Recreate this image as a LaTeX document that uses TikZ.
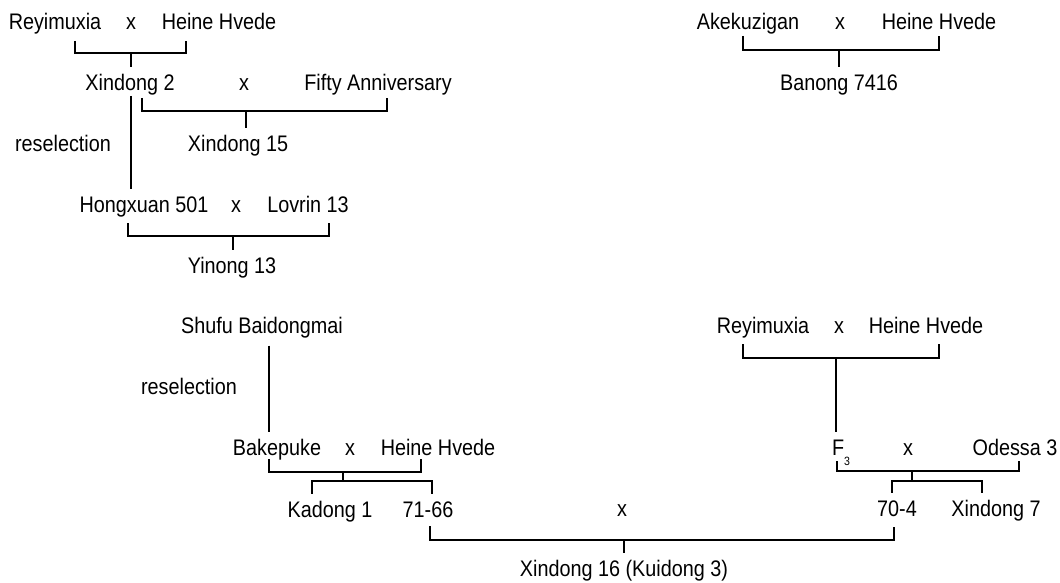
\documentclass[tikz,border=0pt]{standalone}
\usepackage{fontspec}
\setmainfont{Liberation Sans}[FakeStretch=0.88]

\begin{document}
\begin{tikzpicture}[
  x=1pt, y=-1pt,
  font=\fontsize{22.5}{25}\selectfont,
  link/.style={draw=black, line width=2.6pt},
  cult/.style={anchor=base, inner sep=0pt, outer sep=8pt,
    text height=15.5pt, text depth=4.5pt},
  xmark/.style={anchor=base, inner sep=0pt},
  note/.style={anchor=base, inner sep=0pt}
]
\useasboundingbox (0,0) rectangle (1060,583);

% 1. Top left: Xindong 2 -> Xindong 15, Yinong 13
\node[cult] (reyA) at (55,30) {Reyimuxia};
\node[xmark] (xA) at (131,30) {x};
\node[cult] (heineA) at (219,30) {Heine Hvede};

\node[cult] (xd2) at (130,91) {Xindong 2};
\node[xmark] (xB) at (244,91) {x};
\node[cult] (fifty) at (378,91) {Fifty Anniversary};

\node[cult] (xd15) at (238,152) {Xindong 15};
\node[note] (resA) at (63,152) {reselection};

\node[cult] (hong) at (144,212) {Hongxuan 501};
\node[xmark] (xC) at (236,212) {x};
\node[cult] (lovrin) at (308,212) {Lovrin 13};

\node[cult] (yin) at (232,273) {Yinong 13};

% 2. Top right: Banong 7416
\node[cult] (akek) at (748,30) {Akekuzigan};
\node[xmark] (xD) at (840,30) {x};
\node[cult] (heineB) at (939,30) {Heine Hvede};

\node[cult] (banong) at (839,91) {Banong 7416};

% 3. Bottom left: Shufu Baidongmai line
\node[cult] (shufu) at (262,333) {Shufu Baidongmai};
\node[note] (resB) at (189,394) {reselection};

\node[cult] (bake) at (277,455) {Bakepuke};
\node[xmark] (xE) at (350,455) {x};
\node[cult] (heineC) at (438,455) {Heine Hvede};

\node[cult] (kad) at (330,517) {Kadong 1};
\node[cult] (n7166) at (428,517) {71-66};

% 4. Bottom right: F3 x Odessa 3
\node[cult] (reyB) at (763,333) {Reyimuxia};
\node[xmark] (xG) at (839,333) {x};
\node[cult] (heineD) at (926,333) {Heine Hvede};

\node[cult] (f3) at (841,455) {F\raisebox{-10pt}{\fontsize{12}{12}\selectfont 3}};
\node[xmark] (xH) at (908,455) {x};
\node[cult] (odessa) at (1015,455) {Odessa 3};

\node[cult] (n704) at (897,516) {70-4};
\node[cult] (xd7) at (996,516) {Xindong 7};

% 5. Final cross
\node[xmark] (xF) at (622,516) {x};
\node[cult] (final) at (624,576) {Xindong 16 (Kuidong 3)};

% Brackets
\coordinate (a1) at (75,41);  \coordinate (a2) at (186,41);  \coordinate (a) at (131,53);
\draw[link] (a1) |- (a) -| (a2);
\draw[link] (a) -- (a |- xd2.north);

\coordinate (b1) at (142,98); \coordinate (b2) at (387,98);  \coordinate (b) at (246,111);
\draw[link] (b1) |- (b) -| (b2);
\draw[link] (b) -- (b |- xd15.north);

\coordinate (rA) at (131,96);
\draw[link] (rA) -- (rA |- hong.north);

\coordinate (c1) at (128,223); \coordinate (c2) at (329,223); \coordinate (c) at (233,236);
\draw[link] (c1) |- (c) -| (c2);
\draw[link] (c) -- (c |- yin.north);

\coordinate (d1) at (743,36); \coordinate (d2) at (939,36);  \coordinate (d) at (839,50);
\draw[link] (d1) |- (d) -| (d2);
\draw[link] (d) -- (d |- banong.north);

\coordinate (rB) at (269,0);
\draw[link] (rB |- shufu.south) -- (rB |- bake.north);

\coordinate (e1) at (269,459); \coordinate (e2) at (421,459); \coordinate (e) at (343,472);
\draw[link] (e1) |- (e) -| (e2);
\coordinate (eL) at (312,481); \coordinate (eR) at (432,481);
\draw[link] (e) -- (e |- eL);
\draw[link] (eL |- kad.north) -- (eL) -- (eR) -- (eR |- n7166.north);

\coordinate (f1) at (743,344); \coordinate (f2) at (939,344); \coordinate (f) at (836,358);
\draw[link] (f1) |- (f) -| (f2);
\draw[link] (f) -- (f |- f3.north);

\coordinate (h1) at (837,461); \coordinate (h2) at (1019,461); \coordinate (h) at (912,471);
\draw[link] (h1) |- (h) -| (h2);
\coordinate (hL) at (892,481); \coordinate (hR) at (982,481);
\draw[link] (h) -- (h |- hL);
\draw[link] (hL |- n704.north) -- (hL) -- (hR) -- (hR |- xd7.north);

\coordinate (g1) at (430,526); \coordinate (g2) at (894,527); \coordinate (g) at (624,540);
\draw[link] (g1) |- (g) -| (g2);
\draw[link] (g) -- (g |- final.north);

\end{tikzpicture}
\end{document}
